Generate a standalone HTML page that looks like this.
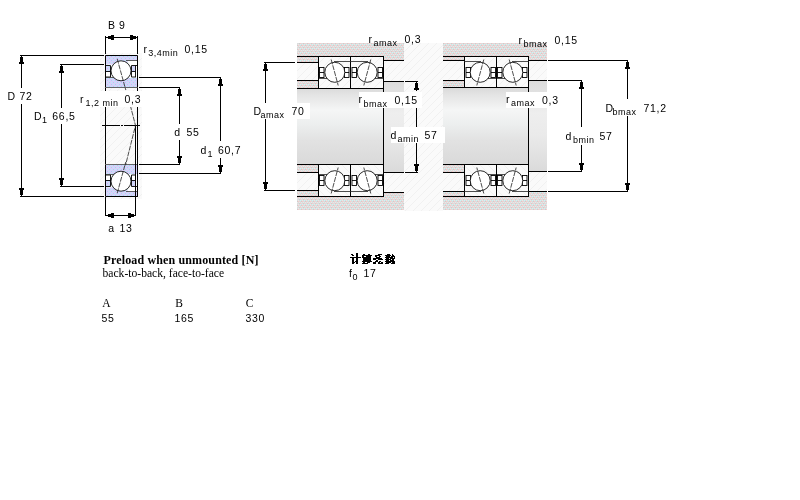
<!DOCTYPE html>
<html><head><meta charset="utf-8"><style>
html,body{margin:0;padding:0;width:800px;height:500px;overflow:hidden;background:#fff}
svg text{fill:#000}
</style></head><body>
<svg width="800" height="500" viewBox="0 0 800 500" style="position:absolute;left:0;top:0">
<defs>
<pattern id="hous" x="0" y="3" width="4" height="4" patternUnits="userSpaceOnUse">
<rect width="4" height="4" fill="#dcdcdc"/>
<rect x="0" y="0" width="1" height="1" fill="#fcc8c8"/><rect x="2" y="2" width="1" height="1" fill="#fcc8c8"/>
<rect x="0" y="1" width="1" height="1" fill="#c8f8f8"/>
<rect x="2" y="1" width="1" height="1" fill="#e8e8e8"/><rect x="1" y="3" width="1" height="1" fill="#e8e8e8"/><rect x="3" y="3" width="1" height="1" fill="#e8e8e8"/>
<rect x="1" y="2" width="1" height="1" fill="#cecece"/><rect x="3" y="0" width="1" height="1" fill="#cecece"/>
</pattern>
<pattern id="ring" width="4" height="4" patternUnits="userSpaceOnUse">
<rect width="4" height="4" fill="#d8d0f8"/>
<rect x="1" y="1" width="1" height="1" fill="#b4f0f8"/><rect x="3" y="3" width="1" height="1" fill="#b4f0f8"/>
<rect x="1" y="3" width="1" height="1" fill="#b0ccf4"/><rect x="3" y="1" width="1" height="1" fill="#b0ccf4"/>
</pattern>
<pattern id="lhatch" width="8" height="8" patternUnits="userSpaceOnUse">
<rect width="8" height="8" fill="#fafafa"/>
<path d="M-1 9 L9 -1" stroke="#f1f1f1" stroke-width="0.9"/>
</pattern>
<linearGradient id="shaft" gradientUnits="userSpaceOnUse" x1="0" y1="88" x2="0" y2="165">
<stop offset="0" stop-color="#dadada"/>
<stop offset="0.09" stop-color="#e4e4e4"/>
<stop offset="0.29" stop-color="#f5f6f6"/>
<stop offset="0.48" stop-color="#eceeee"/>
<stop offset="0.68" stop-color="#e2e2e2"/>
<stop offset="1" stop-color="#d9d9d9"/>
</linearGradient>
<linearGradient id="shoulder" gradientUnits="userSpaceOnUse" x1="0" y1="81" x2="0" y2="172">
<stop offset="0" stop-color="#dcdcdc"/>
<stop offset="0.15" stop-color="#e2e2e2"/>
<stop offset="0.35" stop-color="#eeeeee"/>
<stop offset="0.6" stop-color="#eaeaea"/>
<stop offset="0.85" stop-color="#e0e0e0"/>
<stop offset="1" stop-color="#dadada"/>
</linearGradient>
</defs>
<rect width="800" height="500" fill="#fff"/>
<rect x="100" y="53" width="42" height="146" fill="url(#lhatch)"/>
<g transform="translate(0,55)">
<rect x="105.5" y="0.5" width="32" height="32" fill="url(#ring)"/>
<path d="M106 9.5 L127 9.5 L128 5 L137 5 L137 23 L106 23 Z" fill="#fff"/>
<rect x="106" y="11" width="5" height="6" fill="url(#ring)"/>
<rect x="131.5" y="11" width="4" height="6" fill="url(#ring)"/>
<path d="M105.5 32.5 V0.5 H137.5 V32.5" fill="none" stroke="#000"/>
<line x1="105" y1="32.5" x2="138" y2="32.5" stroke="#555" stroke-width="0.9"/>
<path d="M106 10.5 H110.5 V22 H106 M106 16.5 H110.5" fill="none" stroke="#000" stroke-width="0.9"/>
<path d="M137 10.5 H131.5 V22 H136 M131.5 16.5 H135.5 M135.5 10.5 V22" fill="none" stroke="#000" stroke-width="0.9"/>
<line x1="126" y1="5.5" x2="137" y2="5.5" stroke="#333" stroke-width="0.8"/>
<line x1="106" y1="22.5" x2="116" y2="22.5" stroke="#333" stroke-width="0.8"/>
<circle cx="121" cy="15.8" r="10" fill="#fff" stroke="#111" stroke-width="0.9"/>
<line x1="117.2" y1="3.8" x2="125.8" y2="35" stroke="#222" stroke-width="0.8" stroke-dasharray="5 1"/>
</g>
<g transform="translate(0,197) scale(1,-1)">
<rect x="105.5" y="0.5" width="32" height="32" fill="url(#ring)"/>
<path d="M106 9.5 L127 9.5 L128 5 L137 5 L137 23 L106 23 Z" fill="#fff"/>
<rect x="106" y="11" width="5" height="6" fill="url(#ring)"/>
<rect x="131.5" y="11" width="4" height="6" fill="url(#ring)"/>
<path d="M105.5 32.5 V0.5 H137.5 V32.5" fill="none" stroke="#000"/>
<line x1="105" y1="32.5" x2="138" y2="32.5" stroke="#555" stroke-width="0.9"/>
<path d="M106 10.5 H110.5 V22 H106 M106 16.5 H110.5" fill="none" stroke="#000" stroke-width="0.9"/>
<path d="M137 10.5 H131.5 V22 H136 M131.5 16.5 H135.5 M135.5 10.5 V22" fill="none" stroke="#000" stroke-width="0.9"/>
<line x1="126" y1="5.5" x2="137" y2="5.5" stroke="#333" stroke-width="0.8"/>
<line x1="106" y1="22.5" x2="116" y2="22.5" stroke="#333" stroke-width="0.8"/>
<circle cx="121" cy="15.8" r="10" fill="#fff" stroke="#111" stroke-width="0.9"/>
<line x1="117.2" y1="3.8" x2="125.8" y2="35" stroke="#222" stroke-width="0.8" stroke-dasharray="5 1"/>
</g>
<rect x="105" y="88" width="1" height="76" fill="#000"/>
<rect x="137" y="88" width="1" height="109" fill="#000"/>
<rect x="135" y="125" width="1" height="72" fill="#000"/>
<rect x="102" y="125" width="18" height="1" fill="#000"/>
<rect x="121" y="125" width="2" height="1" fill="#000"/>
<rect x="124" y="125" width="16" height="1" fill="#000"/>
<polyline points="130.2,105 135.5,125.5 125.6,165" fill="none" stroke="#222" stroke-width="0.8" stroke-dasharray="5 1"/>
<rect x="78" y="91" width="64" height="16" fill="#fff"/>
<rect x="105" y="36" width="1" height="18" fill="#000"/>
<rect x="137" y="36" width="1" height="18" fill="#000"/>
<rect x="105" y="37" width="33" height="1" fill="#000"/>
<rect x="106" y="37" width="2" height="1" fill="#000"/>
<rect x="108" y="36" width="3" height="3" fill="#000"/>
<rect x="111" y="35" width="3" height="5" fill="#000"/>
<rect x="136" y="37" width="2" height="1" fill="#000"/>
<rect x="133" y="36" width="3" height="3" fill="#000"/>
<rect x="130" y="35" width="3" height="5" fill="#000"/>
<rect x="105" y="197" width="1" height="19" fill="#000"/>
<rect x="135" y="197" width="1" height="19" fill="#000"/>
<rect x="105" y="215" width="31" height="1" fill="#000"/>
<rect x="106" y="215" width="2" height="1" fill="#000"/>
<rect x="108" y="214" width="3" height="3" fill="#000"/>
<rect x="111" y="213" width="3" height="5" fill="#000"/>
<rect x="134" y="215" width="2" height="1" fill="#000"/>
<rect x="131" y="214" width="3" height="3" fill="#000"/>
<rect x="128" y="213" width="3" height="5" fill="#000"/>
<rect x="20" y="55" width="84" height="1" fill="#000"/>
<rect x="20" y="196" width="84" height="1" fill="#000"/>
<rect x="21" y="55" width="1" height="33" fill="#000"/>
<rect x="21" y="104" width="1" height="92" fill="#000"/>
<rect x="21" y="56" width="1" height="1" fill="#000"/>
<rect x="20" y="57" width="3" height="5" fill="#000"/>
<rect x="19" y="62" width="5" height="2" fill="#000"/>
<rect x="21" y="195" width="1" height="1" fill="#000"/>
<rect x="20" y="190" width="3" height="5" fill="#000"/>
<rect x="19" y="188" width="5" height="2" fill="#000"/>
<rect x="60" y="64" width="44" height="1" fill="#000"/>
<rect x="60" y="186" width="44" height="1" fill="#000"/>
<rect x="61" y="64" width="1" height="44" fill="#000"/>
<rect x="61" y="124" width="1" height="62" fill="#000"/>
<rect x="61" y="65" width="1" height="1" fill="#000"/>
<rect x="60" y="66" width="3" height="5" fill="#000"/>
<rect x="59" y="71" width="5" height="2" fill="#000"/>
<rect x="61" y="185" width="1" height="1" fill="#000"/>
<rect x="60" y="180" width="3" height="5" fill="#000"/>
<rect x="59" y="178" width="5" height="2" fill="#000"/>
<rect x="139" y="77" width="82" height="1" fill="#000"/>
<rect x="139" y="173" width="82" height="1" fill="#000"/>
<rect x="220" y="77" width="1" height="64" fill="#000"/>
<rect x="220" y="158" width="1" height="15" fill="#000"/>
<rect x="220" y="78" width="1" height="1" fill="#000"/>
<rect x="219" y="79" width="3" height="5" fill="#000"/>
<rect x="218" y="84" width="5" height="2" fill="#000"/>
<rect x="220" y="172" width="1" height="1" fill="#000"/>
<rect x="219" y="167" width="3" height="5" fill="#000"/>
<rect x="218" y="165" width="5" height="2" fill="#000"/>
<rect x="139" y="87" width="41" height="1" fill="#000"/>
<rect x="139" y="164" width="41" height="1" fill="#000"/>
<rect x="179" y="87" width="1" height="37" fill="#000"/>
<rect x="179" y="140" width="1" height="24" fill="#000"/>
<rect x="179" y="88" width="1" height="1" fill="#000"/>
<rect x="178" y="89" width="3" height="5" fill="#000"/>
<rect x="177" y="94" width="5" height="2" fill="#000"/>
<rect x="179" y="163" width="1" height="1" fill="#000"/>
<rect x="178" y="158" width="3" height="5" fill="#000"/>
<rect x="177" y="156" width="5" height="2" fill="#000"/>
<rect x="404" y="43" width="39" height="168" fill="url(#lhatch)"/>
<rect x="297" y="43" width="107" height="13" fill="url(#hous)"/>
<rect x="297" y="197" width="107" height="13" fill="url(#hous)"/>
<rect x="297" y="89" width="87" height="75" fill="url(#shaft)"/>
<rect x="297" y="57" width="21" height="5" fill="url(#hous)"/>
<rect x="297" y="63" width="21" height="17" fill="url(#lhatch)"/>
<rect x="297" y="81" width="21" height="7" fill="url(#hous)"/>
<rect x="297" y="165" width="21" height="7" fill="url(#hous)"/>
<rect x="297" y="173" width="21" height="17" fill="url(#lhatch)"/>
<rect x="297" y="191" width="21" height="5" fill="url(#hous)"/>
<rect x="384" y="56" width="20" height="4" fill="url(#hous)"/>
<rect x="384" y="61" width="20" height="20" fill="url(#lhatch)"/>
<rect x="384" y="82" width="20" height="90" fill="url(#shoulder)"/>
<rect x="384" y="173" width="20" height="19" fill="url(#lhatch)"/>
<rect x="384" y="193" width="20" height="4" fill="url(#hous)"/>
<rect x="297" y="56" width="87" height="1" fill="#000"/>
<rect x="297" y="196" width="87" height="1" fill="#000"/>
<rect x="297" y="62" width="21" height="1" fill="#000"/>
<rect x="297" y="80" width="21" height="1" fill="#000"/>
<rect x="297" y="172" width="21" height="1" fill="#000"/>
<rect x="297" y="190" width="21" height="1" fill="#000"/>
<rect x="384" y="60" width="20" height="1" fill="#000"/>
<rect x="384" y="81" width="20" height="1" fill="#000"/>
<rect x="405" y="81" width="13" height="1" fill="#000"/>
<rect x="384" y="172" width="20" height="1" fill="#000"/>
<rect x="405" y="172" width="13" height="1" fill="#000"/>
<rect x="384" y="192" width="20" height="1" fill="#000"/>
<rect x="297" y="88" width="87" height="1" fill="#000"/>
<rect x="297" y="164" width="87" height="1" fill="#000"/>
<g transform="translate(318,56) scale(1,1)">
<rect x="0.5" y="0.5" width="65" height="32" fill="url(#lhatch)" stroke="#000"/>
<line x1="32.5" y1="0" x2="32.5" y2="33" stroke="#000"/>
<g transform="translate(0,0)">
<line x1="16" y1="5.5" x2="33" y2="5.5" stroke="#222" stroke-width="0.8"/>
<line x1="1" y1="22.5" x2="17" y2="22.5" stroke="#222" stroke-width="0.8"/>
<rect x="1.5" y="11.5" width="4.5" height="10" fill="#fff" stroke="#000" stroke-width="0.9"/>
<line x1="1.5" y1="16.5" x2="6.0" y2="16.5" stroke="#000" stroke-width="0.9"/>
<rect x="26.5" y="11.5" width="4.5" height="10" fill="#fff" stroke="#000" stroke-width="0.9"/>
<line x1="26.5" y1="16.5" x2="31.0" y2="16.5" stroke="#000" stroke-width="0.9"/>
<circle cx="16.8" cy="16.3" r="10" fill="#fff" stroke="#111" stroke-width="0.9"/>
<line x1="13.200000000000001" y1="3.5" x2="20.2" y2="29.5" stroke="#222" stroke-width="0.8" stroke-dasharray="5 1"/>
</g>
<g transform="translate(66,0) scale(-1,1)">
<line x1="16" y1="5.5" x2="34" y2="5.5" stroke="#222" stroke-width="0.8"/>
<line x1="1" y1="22.5" x2="17" y2="22.5" stroke="#222" stroke-width="0.8"/>
<rect x="1.5" y="11.5" width="4.5" height="10" fill="#fff" stroke="#000" stroke-width="0.9"/>
<line x1="1.5" y1="16.5" x2="6.0" y2="16.5" stroke="#000" stroke-width="0.9"/>
<rect x="27.5" y="11.5" width="4.5" height="10" fill="#fff" stroke="#000" stroke-width="0.9"/>
<line x1="27.5" y1="16.5" x2="32.0" y2="16.5" stroke="#000" stroke-width="0.9"/>
<circle cx="16.8" cy="16.3" r="10" fill="#fff" stroke="#111" stroke-width="0.9"/>
<line x1="13.200000000000001" y1="3.5" x2="20.2" y2="29.5" stroke="#222" stroke-width="0.8" stroke-dasharray="5 1"/>
</g>
</g>
<g transform="translate(318,197) scale(1,-1)">
<rect x="0.5" y="0.5" width="65" height="32" fill="url(#lhatch)" stroke="#000"/>
<line x1="32.5" y1="0" x2="32.5" y2="33" stroke="#000"/>
<g transform="translate(0,0)">
<line x1="16" y1="5.5" x2="33" y2="5.5" stroke="#222" stroke-width="0.8"/>
<line x1="1" y1="22.5" x2="17" y2="22.5" stroke="#222" stroke-width="0.8"/>
<rect x="1.5" y="11.5" width="4.5" height="10" fill="#fff" stroke="#000" stroke-width="0.9"/>
<line x1="1.5" y1="16.5" x2="6.0" y2="16.5" stroke="#000" stroke-width="0.9"/>
<rect x="26.5" y="11.5" width="4.5" height="10" fill="#fff" stroke="#000" stroke-width="0.9"/>
<line x1="26.5" y1="16.5" x2="31.0" y2="16.5" stroke="#000" stroke-width="0.9"/>
<circle cx="16.8" cy="16.3" r="10" fill="#fff" stroke="#111" stroke-width="0.9"/>
<line x1="13.200000000000001" y1="3.5" x2="20.2" y2="29.5" stroke="#222" stroke-width="0.8" stroke-dasharray="5 1"/>
</g>
<g transform="translate(66,0) scale(-1,1)">
<line x1="16" y1="5.5" x2="34" y2="5.5" stroke="#222" stroke-width="0.8"/>
<line x1="1" y1="22.5" x2="17" y2="22.5" stroke="#222" stroke-width="0.8"/>
<rect x="1.5" y="11.5" width="4.5" height="10" fill="#fff" stroke="#000" stroke-width="0.9"/>
<line x1="1.5" y1="16.5" x2="6.0" y2="16.5" stroke="#000" stroke-width="0.9"/>
<rect x="27.5" y="11.5" width="4.5" height="10" fill="#fff" stroke="#000" stroke-width="0.9"/>
<line x1="27.5" y1="16.5" x2="32.0" y2="16.5" stroke="#000" stroke-width="0.9"/>
<circle cx="16.8" cy="16.3" r="10" fill="#fff" stroke="#111" stroke-width="0.9"/>
<line x1="13.200000000000001" y1="3.5" x2="20.2" y2="29.5" stroke="#222" stroke-width="0.8" stroke-dasharray="5 1"/>
</g>
</g>
<rect x="383" y="88" width="1" height="77" fill="#000"/>
<rect x="264" y="62" width="31" height="1" fill="#000"/>
<rect x="264" y="190" width="31" height="1" fill="#000"/>
<rect x="265" y="62" width="1" height="41" fill="#000"/>
<rect x="265" y="119" width="1" height="71" fill="#000"/>
<rect x="265" y="63" width="1" height="1" fill="#000"/>
<rect x="264" y="64" width="3" height="5" fill="#000"/>
<rect x="263" y="69" width="5" height="2" fill="#000"/>
<rect x="265" y="189" width="1" height="1" fill="#000"/>
<rect x="264" y="184" width="3" height="5" fill="#000"/>
<rect x="263" y="182" width="5" height="2" fill="#000"/>
<rect x="416" y="81" width="1" height="10" fill="#000"/>
<rect x="416" y="108" width="1" height="19" fill="#000"/>
<rect x="416" y="143" width="1" height="29" fill="#000"/>
<rect x="416" y="82" width="1" height="1" fill="#000"/>
<rect x="415" y="83" width="3" height="5" fill="#000"/>
<rect x="414" y="88" width="5" height="2" fill="#000"/>
<rect x="416" y="171" width="1" height="1" fill="#000"/>
<rect x="415" y="166" width="3" height="5" fill="#000"/>
<rect x="414" y="164" width="5" height="2" fill="#000"/>
<rect x="443" y="43" width="104" height="13" fill="url(#hous)"/>
<rect x="443" y="197" width="104" height="13" fill="url(#hous)"/>
<rect x="443" y="88" width="85" height="76" fill="url(#shaft)"/>
<rect x="443" y="57" width="21" height="3" fill="url(#hous)"/>
<rect x="443" y="61" width="21" height="19" fill="url(#lhatch)"/>
<rect x="443" y="81" width="21" height="6" fill="url(#hous)"/>
<rect x="443" y="165" width="21" height="7" fill="url(#hous)"/>
<rect x="443" y="173" width="21" height="18" fill="url(#lhatch)"/>
<rect x="443" y="192" width="21" height="4" fill="url(#hous)"/>
<rect x="529" y="56" width="18" height="4" fill="url(#hous)"/>
<rect x="529" y="61" width="18" height="19" fill="url(#lhatch)"/>
<rect x="529" y="81" width="18" height="90" fill="url(#shoulder)"/>
<rect x="529" y="172" width="18" height="19" fill="url(#lhatch)"/>
<rect x="529" y="192" width="18" height="5" fill="url(#hous)"/>
<rect x="443" y="56" width="86" height="1" fill="#000"/>
<rect x="443" y="196" width="86" height="1" fill="#000"/>
<rect x="443" y="60" width="21" height="1" fill="#000"/>
<rect x="443" y="80" width="21" height="1" fill="#000"/>
<rect x="443" y="172" width="21" height="1" fill="#000"/>
<rect x="443" y="191" width="21" height="1" fill="#000"/>
<rect x="529" y="60" width="18" height="1" fill="#000"/>
<rect x="548" y="60" width="80" height="1" fill="#000"/>
<rect x="529" y="80" width="18" height="1" fill="#000"/>
<rect x="548" y="80" width="34" height="1" fill="#000"/>
<rect x="529" y="171" width="18" height="1" fill="#000"/>
<rect x="548" y="171" width="34" height="1" fill="#000"/>
<rect x="529" y="191" width="18" height="1" fill="#000"/>
<rect x="548" y="191" width="80" height="1" fill="#000"/>
<rect x="443" y="87" width="21" height="1" fill="#000"/>
<rect x="443" y="164" width="86" height="1" fill="#000"/>
<g transform="translate(464,56) scale(1,1)">
<rect x="0.5" y="0.5" width="64" height="31" fill="url(#lhatch)" stroke="#000"/>
<line x1="32.5" y1="0" x2="32.5" y2="32" stroke="#000"/>
<g transform="translate(33,0) scale(-1,1)">
<line x1="16" y1="5.5" x2="33" y2="5.5" stroke="#222" stroke-width="0.8"/>
<line x1="1" y1="22.5" x2="17" y2="22.5" stroke="#222" stroke-width="0.8"/>
<rect x="1.5" y="11.5" width="4.5" height="10" fill="#fff" stroke="#000" stroke-width="0.9"/>
<line x1="1.5" y1="16.5" x2="6.0" y2="16.5" stroke="#000" stroke-width="0.9"/>
<rect x="26.5" y="11.5" width="4.5" height="10" fill="#fff" stroke="#000" stroke-width="0.9"/>
<line x1="26.5" y1="16.5" x2="31.0" y2="16.5" stroke="#000" stroke-width="0.9"/>
<circle cx="16.8" cy="16.3" r="10" fill="#fff" stroke="#111" stroke-width="0.9"/>
<line x1="13.200000000000001" y1="3.5" x2="20.2" y2="29.5" stroke="#222" stroke-width="0.8" stroke-dasharray="5 1"/>
</g>
<g transform="translate(32,0)">
<line x1="16" y1="5.5" x2="33" y2="5.5" stroke="#222" stroke-width="0.8"/>
<line x1="1" y1="22.5" x2="17" y2="22.5" stroke="#222" stroke-width="0.8"/>
<rect x="1.5" y="11.5" width="4.5" height="10" fill="#fff" stroke="#000" stroke-width="0.9"/>
<line x1="1.5" y1="16.5" x2="6.0" y2="16.5" stroke="#000" stroke-width="0.9"/>
<rect x="26.5" y="11.5" width="4.5" height="10" fill="#fff" stroke="#000" stroke-width="0.9"/>
<line x1="26.5" y1="16.5" x2="31.0" y2="16.5" stroke="#000" stroke-width="0.9"/>
<circle cx="16.8" cy="16.3" r="10" fill="#fff" stroke="#111" stroke-width="0.9"/>
<line x1="13.200000000000001" y1="3.5" x2="20.2" y2="29.5" stroke="#222" stroke-width="0.8" stroke-dasharray="5 1"/>
</g>
</g>
<g transform="translate(464,197) scale(1,-1)">
<rect x="0.5" y="0.5" width="64" height="32" fill="url(#lhatch)" stroke="#000"/>
<line x1="32.5" y1="0" x2="32.5" y2="33" stroke="#000"/>
<g transform="translate(33,0) scale(-1,1)">
<line x1="16" y1="5.5" x2="33" y2="5.5" stroke="#222" stroke-width="0.8"/>
<line x1="1" y1="22.5" x2="17" y2="22.5" stroke="#222" stroke-width="0.8"/>
<rect x="1.5" y="11.5" width="4.5" height="10" fill="#fff" stroke="#000" stroke-width="0.9"/>
<line x1="1.5" y1="16.5" x2="6.0" y2="16.5" stroke="#000" stroke-width="0.9"/>
<rect x="26.5" y="11.5" width="4.5" height="10" fill="#fff" stroke="#000" stroke-width="0.9"/>
<line x1="26.5" y1="16.5" x2="31.0" y2="16.5" stroke="#000" stroke-width="0.9"/>
<circle cx="16.8" cy="16.3" r="10" fill="#fff" stroke="#111" stroke-width="0.9"/>
<line x1="13.200000000000001" y1="3.5" x2="20.2" y2="29.5" stroke="#222" stroke-width="0.8" stroke-dasharray="5 1"/>
</g>
<g transform="translate(32,0)">
<line x1="16" y1="5.5" x2="33" y2="5.5" stroke="#222" stroke-width="0.8"/>
<line x1="1" y1="22.5" x2="17" y2="22.5" stroke="#222" stroke-width="0.8"/>
<rect x="1.5" y="11.5" width="4.5" height="10" fill="#fff" stroke="#000" stroke-width="0.9"/>
<line x1="1.5" y1="16.5" x2="6.0" y2="16.5" stroke="#000" stroke-width="0.9"/>
<rect x="26.5" y="11.5" width="4.5" height="10" fill="#fff" stroke="#000" stroke-width="0.9"/>
<line x1="26.5" y1="16.5" x2="31.0" y2="16.5" stroke="#000" stroke-width="0.9"/>
<circle cx="16.8" cy="16.3" r="10" fill="#fff" stroke="#111" stroke-width="0.9"/>
<line x1="13.200000000000001" y1="3.5" x2="20.2" y2="29.5" stroke="#222" stroke-width="0.8" stroke-dasharray="5 1"/>
</g>
</g>
<rect x="528" y="87" width="1" height="78" fill="#000"/>
<rect x="627" y="60" width="1" height="39" fill="#000"/>
<rect x="627" y="116" width="1" height="75" fill="#000"/>
<rect x="627" y="61" width="1" height="1" fill="#000"/>
<rect x="626" y="62" width="3" height="5" fill="#000"/>
<rect x="625" y="67" width="5" height="2" fill="#000"/>
<rect x="627" y="190" width="1" height="1" fill="#000"/>
<rect x="626" y="185" width="3" height="5" fill="#000"/>
<rect x="625" y="183" width="5" height="2" fill="#000"/>
<rect x="581" y="80" width="1" height="47" fill="#000"/>
<rect x="581" y="145" width="1" height="26" fill="#000"/>
<rect x="581" y="81" width="1" height="1" fill="#000"/>
<rect x="580" y="82" width="3" height="5" fill="#000"/>
<rect x="579" y="87" width="5" height="2" fill="#000"/>
<rect x="581" y="170" width="1" height="1" fill="#000"/>
<rect x="580" y="165" width="3" height="5" fill="#000"/>
<rect x="579" y="163" width="5" height="2" fill="#000"/>
<rect x="250" y="103" width="60" height="16" fill="#fff"/>
<rect x="359" y="92" width="63" height="16" fill="#fff"/>
<rect x="391" y="127" width="54" height="16" fill="#fff"/>
<rect x="506" y="92" width="57" height="16" fill="#fff"/>
<path fill="#000" d="M356 253h2v1h-2zM351 254h2v1h-2zM356 254h2v1h-2zM352 255h2v1h-2zM356 255h2v1h-2zM356 256h2v1h-2zM350 257h11v1h-11zM352 258h2v1h-2zM356 258h2v1h-2zM352 259h2v1h-2zM356 259h2v1h-2zM352 260h2v1h-2zM356 260h2v1h-2zM352 261h2v1h-2zM355 261h3v1h-3zM352 262h3v1h-3zM356 262h2v1h-2zM352 263h2v1h-2zM356 263h2v1h-2zM363 254h2v1h-2zM368 254h2v1h-2zM362 255h10v1h-10zM362 256h2v1h-2zM366 256h5v1h-5zM362 257h9v1h-9zM363 258h8v1h-8zM363 259h8v1h-8zM363 260h8v1h-8zM362 261h10v1h-10zM363 262h2v1h-2zM367 262h3v1h-3zM362 263h6v1h-6zM378 254h4v1h-4zM375 255h5v1h-5zM375 256h2v1h-2zM379 256h2v1h-2zM376 257h4v1h-4zM373 258h9v1h-9zM373 259h3v1h-3zM378 259h5v1h-5zM376 260h2v1h-2zM375 261h3v1h-3zM379 261h2v1h-2zM373 262h3v1h-3zM378 262h2v1h-2zM381 262h2v1h-2zM373 263h3v1h-3zM378 263h5v1h-5zM387 254h3v1h-3zM392 254h1v1h-1zM385 255h6v1h-6zM392 255h2v1h-2zM386 256h4v1h-4zM391 256h4v1h-4zM385 257h8v1h-8zM394 257h1v1h-1zM386 258h3v1h-3zM390 258h5v1h-5zM385 259h6v1h-6zM392 259h2v1h-2zM386 260h3v1h-3zM390 260h4v1h-4zM385 261h10v1h-10zM386 262h5v1h-5zM392 262h3v1h-3zM385 263h4v1h-4zM391 263h4v1h-4z"/>
</svg>
<svg width="800" height="500" viewBox="0 0 800 500" style="position:absolute;left:0;top:0;will-change:transform">
<text x="108" y="28.75" font-family='"Liberation Sans", sans-serif' font-size="10.5" font-weight="normal" letter-spacing="0.7">B</text>
<text x="119" y="28.75" font-family='"Liberation Sans", sans-serif' font-size="10.5" font-weight="normal" letter-spacing="0.7">9</text>
<text x="108.3" y="231.5" font-family='"Liberation Sans", sans-serif' font-size="10.5" font-weight="normal" letter-spacing="0.7">a</text>
<text x="119.5" y="231.5" font-family='"Liberation Sans", sans-serif' font-size="10.5" font-weight="normal" letter-spacing="0.7">13</text>
<text x="7.5" y="100" font-family='"Liberation Sans", sans-serif' font-size="10.5" font-weight="normal" letter-spacing="0.7">D</text>
<text x="19.5" y="100" font-family='"Liberation Sans", sans-serif' font-size="10.5" font-weight="normal" letter-spacing="0.7">72</text>
<text x="34" y="119.75" font-family='"Liberation Sans", sans-serif' font-size="10.5" font-weight="normal" letter-spacing="0.7">D</text>
<text x="42" y="122.75" font-family='"Liberation Sans", sans-serif' font-size="9" font-weight="normal" letter-spacing="0.5">1</text>
<text x="52.3" y="119.75" font-family='"Liberation Sans", sans-serif' font-size="10.5" font-weight="normal" letter-spacing="0.7">66,5</text>
<text x="80" y="102.5" font-family='"Liberation Sans", sans-serif' font-size="10.5" font-weight="normal" letter-spacing="0.7">r</text>
<text x="85.5" y="106" font-family='"Liberation Sans", sans-serif' font-size="9" font-weight="normal" letter-spacing="0.5">1,2 min</text>
<text x="124.5" y="102.7" font-family='"Liberation Sans", sans-serif' font-size="10.5" font-weight="normal" letter-spacing="0.7">0,3</text>
<text x="143.5" y="52.5" font-family='"Liberation Sans", sans-serif' font-size="10.5" font-weight="normal" letter-spacing="0.7">r</text>
<text x="148.3" y="56" font-family='"Liberation Sans", sans-serif' font-size="9" font-weight="normal" letter-spacing="0.5">3,4min</text>
<text x="184.5" y="52.75" font-family='"Liberation Sans", sans-serif' font-size="10.5" font-weight="normal" letter-spacing="0.7">0,15</text>
<text x="200.5" y="153.75" font-family='"Liberation Sans", sans-serif' font-size="10.5" font-weight="normal" letter-spacing="0.7">d</text>
<text x="207.5" y="156.9" font-family='"Liberation Sans", sans-serif' font-size="9" font-weight="normal" letter-spacing="0.5">1</text>
<text x="218" y="153.75" font-family='"Liberation Sans", sans-serif' font-size="10.5" font-weight="normal" letter-spacing="0.7">60,7</text>
<text x="174.3" y="135.9" font-family='"Liberation Sans", sans-serif' font-size="10.5" font-weight="normal" letter-spacing="0.7">d</text>
<text x="186.5" y="135.9" font-family='"Liberation Sans", sans-serif' font-size="10.5" font-weight="normal" letter-spacing="0.7">55</text>
<text x="368.5" y="42.5" font-family='"Liberation Sans", sans-serif' font-size="10.5" font-weight="normal" letter-spacing="0.7">r</text>
<text x="373.5" y="46" font-family='"Liberation Sans", sans-serif' font-size="9" font-weight="normal" letter-spacing="0.5">amax</text>
<text x="404.5" y="42.8" font-family='"Liberation Sans", sans-serif' font-size="10.5" font-weight="normal" letter-spacing="0.7">0,3</text>
<text x="253.5" y="114.5" font-family='"Liberation Sans", sans-serif' font-size="10.5" font-weight="normal" letter-spacing="0.7">D</text>
<text x="260.5" y="117.8" font-family='"Liberation Sans", sans-serif' font-size="9" font-weight="normal" letter-spacing="0.5">amax</text>
<text x="291.5" y="114.5" font-family='"Liberation Sans", sans-serif' font-size="10.5" font-weight="normal" letter-spacing="0.7">70</text>
<text x="358.5" y="102.75" font-family='"Liberation Sans", sans-serif' font-size="10.5" font-weight="normal" letter-spacing="0.7">r</text>
<text x="363.5" y="106.8" font-family='"Liberation Sans", sans-serif' font-size="9" font-weight="normal" letter-spacing="0.5">bmax</text>
<text x="394.5" y="104" font-family='"Liberation Sans", sans-serif' font-size="10.5" font-weight="normal" letter-spacing="0.7">0,15</text>
<text x="390.5" y="138.5" font-family='"Liberation Sans", sans-serif' font-size="10.5" font-weight="normal" letter-spacing="0.7">d</text>
<text x="397.5" y="141.8" font-family='"Liberation Sans", sans-serif' font-size="9" font-weight="normal" letter-spacing="0.5">amin</text>
<text x="424.5" y="138.5" font-family='"Liberation Sans", sans-serif' font-size="10.5" font-weight="normal" letter-spacing="0.7">57</text>
<text x="518.5" y="43.5" font-family='"Liberation Sans", sans-serif' font-size="10.5" font-weight="normal" letter-spacing="0.7">r</text>
<text x="523.5" y="47" font-family='"Liberation Sans", sans-serif' font-size="9" font-weight="normal" letter-spacing="0.5">bmax</text>
<text x="554.5" y="44.2" font-family='"Liberation Sans", sans-serif' font-size="10.5" font-weight="normal" letter-spacing="0.7">0,15</text>
<text x="506" y="102.5" font-family='"Liberation Sans", sans-serif' font-size="10.5" font-weight="normal" letter-spacing="0.7">r</text>
<text x="511" y="106" font-family='"Liberation Sans", sans-serif' font-size="9" font-weight="normal" letter-spacing="0.5">amax</text>
<text x="542" y="104" font-family='"Liberation Sans", sans-serif' font-size="10.5" font-weight="normal" letter-spacing="0.7">0,3</text>
<text x="605.5" y="112" font-family='"Liberation Sans", sans-serif' font-size="10.5" font-weight="normal" letter-spacing="0.7">D</text>
<text x="612.5" y="114.8" font-family='"Liberation Sans", sans-serif' font-size="9" font-weight="normal" letter-spacing="0.5">bmax</text>
<text x="643.5" y="112" font-family='"Liberation Sans", sans-serif' font-size="10.5" font-weight="normal" letter-spacing="0.7">71,2</text>
<text x="565.5" y="139.7" font-family='"Liberation Sans", sans-serif' font-size="10.5" font-weight="normal" letter-spacing="0.7">d</text>
<text x="573" y="143" font-family='"Liberation Sans", sans-serif' font-size="9" font-weight="normal" letter-spacing="0.5">bmin</text>
<text x="599.5" y="139.7" font-family='"Liberation Sans", sans-serif' font-size="10.5" font-weight="normal" letter-spacing="0.7">57</text>
<text x="103.5" y="263.5" font-family='"Liberation Serif", serif' font-size="12" font-weight="bold" letter-spacing="0.14">Preload when unmounted [N]</text>
<text x="102.5" y="276.5" font-family='"Liberation Serif", serif' font-size="11.6" font-weight="normal" letter-spacing="0">back-to-back, face-to-face</text>
<text x="102.3" y="307" font-family='"Liberation Serif", serif' font-size="11.5" font-weight="normal" letter-spacing="0">A</text>
<text x="175.3" y="307" font-family='"Liberation Serif", serif' font-size="11.5" font-weight="normal" letter-spacing="0">B</text>
<text x="245.8" y="306.5" font-family='"Liberation Serif", serif' font-size="11.5" font-weight="normal" letter-spacing="0">C</text>
<text x="101.5" y="322" font-family='"Liberation Sans", sans-serif' font-size="10.5" font-weight="normal" letter-spacing="0.7">55</text>
<text x="174.5" y="322" font-family='"Liberation Sans", sans-serif' font-size="10.5" font-weight="normal" letter-spacing="0.7">165</text>
<text x="245.5" y="322" font-family='"Liberation Sans", sans-serif' font-size="10.5" font-weight="normal" letter-spacing="0.7">330</text>
<text x="349" y="277" font-family='"Liberation Sans", sans-serif' font-size="10.5" font-weight="normal" letter-spacing="0.7">f</text>
<text x="352.5" y="279.5" font-family='"Liberation Sans", sans-serif' font-size="9" font-weight="normal" letter-spacing="0.5">0</text>
<text x="363.5" y="277" font-family='"Liberation Sans", sans-serif' font-size="10.5" font-weight="normal" letter-spacing="0.7">17</text>
</svg>
</body></html>
